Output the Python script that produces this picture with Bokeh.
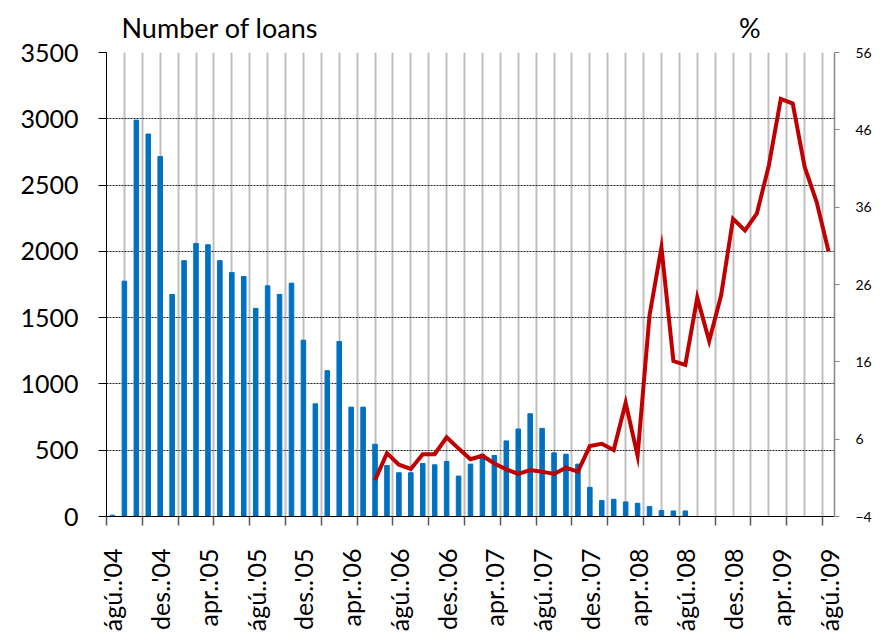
import math
from bokeh.plotting import figure
from bokeh.models import Range1d, LinearAxis, FixedTicker
from bokeh.embed import file_html
from bokeh.resources import INLINE

# x-axis labels, one every 4 months (Aug 2004 .. Aug 2009)
tick_labels = ["ágú..'04", "des..'04", "apr..'05", "ágú..'05", "des..'05", "apr..'06",
               "ágú..'06", "des..'06", "apr..'07", "ágú..'07", "des..'07", "apr..'08",
               "ágú..'08", "des..'08", "apr..'09", "ágú..'09"]

# number of loans per month (left axis), from ágú '04
loans = [10, 1775, 2990, 2885, 2715, 1675, 1930, 2060, 2050, 1930,
         1840, 1810, 1570, 1740, 1675, 1760, 1330, 850, 1100, 1320,
         825, 825, 545, 385, 330, 330, 400, 390, 415, 305,
         395, 470, 460, 570, 660, 775, 665, 480, 470, 395,
         220, 120, 130, 110, 100, 75, 45, 42, 42]

# percentage (right axis), starts in month 22
rate = [None] * 22 + [0.7, 4.2, 2.7, 2.15, 4.05, 4.05, 6.25, 4.8, 3.4, 3.85,
                      2.85, 2.1, 1.5, 2.0, 1.8, 1.5, 2.3, 1.8, 5.1, 5.4,
                      4.6, 10.7, 3.85, 22.0, 30.8, 16.1, 15.6, 24.3, 18.7, 24.6,
                      34.5, 33.0, 35.2, 41.4, 50.0, 49.4, 41.2, 36.7, 30.3]

n_months = len(rate)
months = list(range(n_months))
rate = [float("nan") if v is None else v for v in rate]

FONT = "Lato"

p = figure(width=883, height=636, output_backend="svg", toolbar_location=None,
           x_range=Range1d(-0.5, n_months - 0.5), y_range=Range1d(0, 3500),
           min_border_left=106, min_border_right=49, min_border_top=52, min_border_bottom=120)
p.extra_y_ranges = {"pct": Range1d(-4, 56)}
p.outline_line_color = None

# both headings sit in the title line: left one for the bars, "%" for the line
p.title.text = "Number of loans" + "\u00a0" * 61 + "%"
p.title.align = "left"
p.title.offset = 15
p.title.standoff = 17
p.title.text_font = FONT
p.title.text_font_size = "27px"
p.title.text_font_style = "normal"
p.title.text_color = "black"

# gray vertical grid, dotted horizontal grid
p.xgrid.ticker = FixedTicker(ticks=[1 + 1.5 * j for j in range(40)])
p.xgrid.grid_line_color = "#BFBFBF"
p.xgrid.grid_line_width = 2
p.ygrid.ticker = FixedTicker(ticks=list(range(0, 3501, 500)))
p.ygrid.grid_line_color = "#222222"
p.ygrid.grid_line_dash = "2 1"
p.ygrid.grid_line_width = 1

# bottom axis: labels every 4 months, tick marks every 3 months
label_pos = [4 * i for i in range(len(tick_labels))]
xa = p.xaxis[0]
xa.ticker = FixedTicker(ticks=label_pos, minor_ticks=[-0.5 + 3 * k for k in range(21)])
xa.major_label_overrides = {pos: lbl for pos, lbl in zip(label_pos, tick_labels)}
xa.major_label_orientation = math.pi / 2
xa.major_tick_out = 0
xa.major_tick_in = 0
xa.minor_tick_out = 9
xa.minor_tick_in = 0
xa.minor_tick_line_color = "#595959"
xa.minor_tick_line_width = 1.5
xa.axis_line_color = "black"
xa.major_label_standoff = 23
xa.major_label_text_font = FONT
xa.major_label_text_font_size = "25px"
xa.major_label_text_color = "black"

# left axis
ya = p.yaxis[0]
ya.ticker = FixedTicker(ticks=list(range(0, 3501, 500)))
ya.axis_line_color = "black"
ya.major_tick_out = 8
ya.major_tick_in = 0
ya.major_tick_line_color = "black"
ya.major_label_standoff = 20
ya.major_label_text_font = FONT
ya.major_label_text_font_size = "25px"
ya.major_label_text_color = "black"

# right axis
ra = LinearAxis(y_range_name="pct", ticker=FixedTicker(ticks=list(range(-4, 57, 10))))
ra.axis_line_color = "#868686"
ra.axis_line_width = 1.5
ra.major_tick_line_color = "#868686"
ra.major_tick_out = 5
ra.major_tick_in = 0
ra.major_label_standoff = 16
ra.major_label_text_font = FONT
ra.major_label_text_font_size = "14px"
ra.major_label_text_color = "black"
p.add_layout(ra, "right")

p.vbar(x=list(range(len(loans))), top=loans, width=0.38, color="#0070C0")
p.line(months, rate, y_range_name="pct", color="#C00000", line_width=4, line_join="miter")

open("out.html", "w").write(file_html(p, INLINE))
